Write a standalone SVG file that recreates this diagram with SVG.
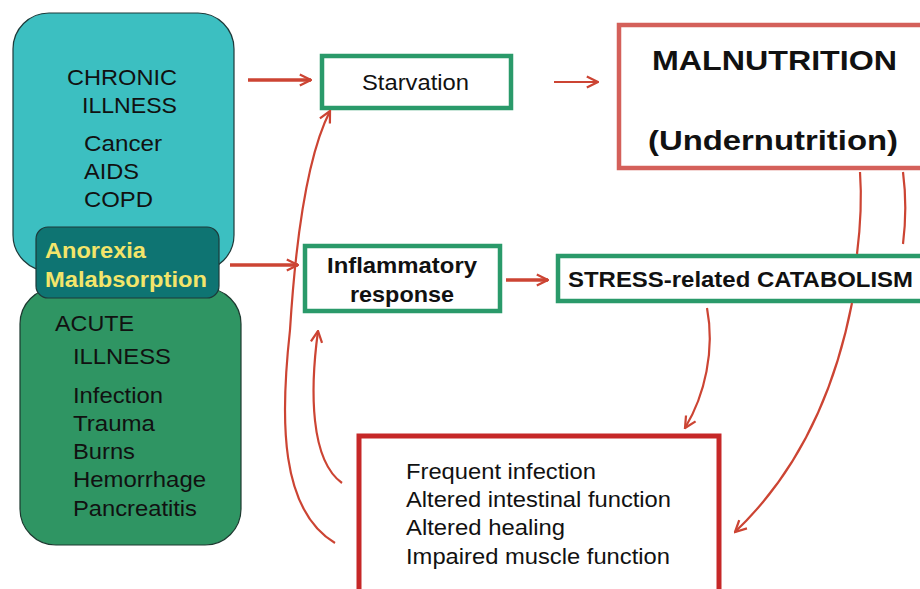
<svg xmlns="http://www.w3.org/2000/svg" width="920" height="589" viewBox="0 0 920 589">
<defs>
<style>
.t{font-family:"Liberation Sans",Arial,sans-serif;fill:#111;}
.n{font-size:22px;}
.b{font-weight:bold;}
.gb{fill:#fff;stroke:#2a9a6a;stroke-width:4.5;}
.c{fill:none;stroke:#cc4433;stroke-width:2.2;}
.ct{fill:none;stroke:#cc4433;stroke-width:3.5;}
</style>
<marker id="ahs" viewBox="0 0 10 10" refX="9" refY="5" markerWidth="14" markerHeight="14" orient="auto" markerUnits="userSpaceOnUse">
<path d="M1,1 L9,5 L1,9" fill="none" stroke="#cc4433" stroke-width="1.6"/>
</marker>
</defs>
<rect width="920" height="589" fill="#fff"/>

<g id="acute">
<rect x="20" y="288" width="221" height="257" rx="36" fill="#2f9563" stroke="#1d3a30" stroke-width="1.2"/>
<text class="t n" x="55" y="331" textLength="79" lengthAdjust="spacingAndGlyphs">ACUTE</text>
<text class="t n" x="73" y="364" textLength="98" lengthAdjust="spacingAndGlyphs">ILLNESS</text>
<text class="t n" x="73" y="403" textLength="90" lengthAdjust="spacingAndGlyphs">Infection</text>
<text class="t n" x="73" y="431" textLength="82" lengthAdjust="spacingAndGlyphs">Trauma</text>
<text class="t n" x="73" y="459" textLength="62" lengthAdjust="spacingAndGlyphs">Burns</text>
<text class="t n" x="73" y="487" textLength="133" lengthAdjust="spacingAndGlyphs">Hemorrhage</text>
<text class="t n" x="73" y="516" textLength="124" lengthAdjust="spacingAndGlyphs">Pancreatitis</text>
</g>
<g id="chronic">
<rect x="13" y="13" width="221" height="258" rx="36" fill="#3cbfc1" stroke="#1d3a3a" stroke-width="1.2"/>
<text class="t n" x="67" y="85" textLength="110" lengthAdjust="spacingAndGlyphs">CHRONIC</text>
<text class="t n" x="82" y="113" textLength="95" lengthAdjust="spacingAndGlyphs">ILLNESS</text>
<text class="t n" x="84" y="151" textLength="78" lengthAdjust="spacingAndGlyphs">Cancer</text>
<text class="t n" x="84" y="179" textLength="55" lengthAdjust="spacingAndGlyphs">AIDS</text>
<text class="t n" x="84" y="207" textLength="69" lengthAdjust="spacingAndGlyphs">COPD</text>
</g>
<g id="anorexia">
<rect x="36" y="227" width="183" height="71" rx="12" fill="#0e7472" stroke="#1d3a3a" stroke-width="1.2"/>
<text class="t n b" x="45" y="258" style="fill:#f3e56a" textLength="101" lengthAdjust="spacingAndGlyphs">Anorexia</text>
<text class="t n b" x="45" y="287" style="fill:#f3e56a" textLength="162" lengthAdjust="spacingAndGlyphs">Malabsorption</text>
</g>

<g id="starvation">
<rect class="gb" x="322" y="56" width="189" height="52"/>
<text class="t n" x="362" y="90" textLength="107" lengthAdjust="spacingAndGlyphs">Starvation</text>
</g>
<g id="inflammatory">
<rect class="gb" x="305" y="246" width="195" height="65"/>
<text class="t n b" x="327" y="273" textLength="150" lengthAdjust="spacingAndGlyphs">Inflammatory</text>
<text class="t n b" x="350" y="302" textLength="104" lengthAdjust="spacingAndGlyphs">response</text>
</g>
<g id="stress">
<rect class="gb" x="558" y="256" width="370" height="45"/>
<text class="t n b" x="568" y="287" textLength="345" lengthAdjust="spacingAndGlyphs">STRESS-related CATABOLISM</text>
</g>
<g id="malnutrition">
<rect x="619" y="25" width="310" height="143" fill="#fff" stroke="#d4605a" stroke-width="4.5"/>
<text class="t b" x="652" y="70" font-size="28" textLength="245" lengthAdjust="spacingAndGlyphs">MALNUTRITION</text>
<text class="t b" x="648" y="150" font-size="28" textLength="250" lengthAdjust="spacingAndGlyphs">(Undernutrition)</text>
</g>
<g id="consequences">
<rect x="359" y="436" width="360" height="170" fill="#fff" stroke="#c62828" stroke-width="5"/>
<text class="t n" x="406" y="479" textLength="190" lengthAdjust="spacingAndGlyphs">Frequent infection</text>
<text class="t n" x="406" y="507" textLength="265" lengthAdjust="spacingAndGlyphs">Altered intestinal function</text>
<text class="t n" x="406" y="535" textLength="159" lengthAdjust="spacingAndGlyphs">Altered healing</text>
<text class="t n" x="406" y="564" textLength="264" lengthAdjust="spacingAndGlyphs">Impaired muscle function</text>
</g>

<g id="connectors">
<path class="ct" d="M248,80 L311,80" marker-end="url(#ahs)"/>
<path class="c" d="M554,82 L598,82" marker-end="url(#ahs)"/>
<path class="ct" d="M230,265 L298,265" marker-end="url(#ahs)"/>
<path class="ct" d="M506,280 L548,280" marker-end="url(#ahs)"/>
<path class="c" d="M335,543 C280,510 280,420 290,330 C295,250 305,160 330,111" marker-end="url(#ahs)"/>
<path class="c" d="M342,483 C310,460 310,390 318,331" marker-end="url(#ahs)"/>
<path class="c" d="M707,308 C715,350 705,395 685,428" marker-end="url(#ahs)"/>
<path class="c" d="M860,172 C862,200 860,230 857,254"/>
<path class="c" d="M852,303 C835,390 800,470 735,532" marker-end="url(#ahs)"/>
<path class="c" d="M903,172 C906,195 906,220 903,244"/>
</g>
</svg>
